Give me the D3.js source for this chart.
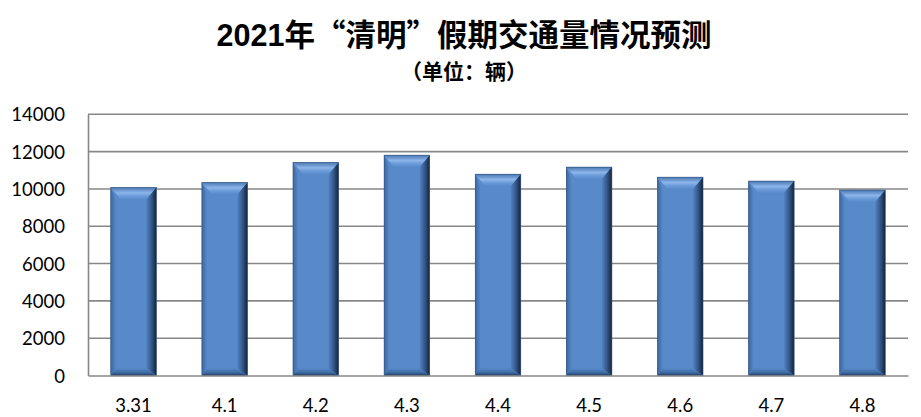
<!DOCTYPE html>
<html><head><meta charset="utf-8">
<script src="https://cdn.jsdelivr.net/npm/d3@7/dist/d3.min.js"></script>
<style>body{margin:0;background:#fff}svg{display:block}</style>
</head><body>
<svg id="c" width="921" height="417"></svg>
<script>
const categories = ["3.31","4.1","4.2","4.3","4.4","4.5","4.6","4.7","4.8"];
const values = [10080, 10350, 11420, 11810, 10790, 11170, 10630, 10420, 9940];
const yTicks = [0,2000,4000,6000,8000,10000,12000,14000];
const titleYear = "2021";
const titleRest = "年“清明”假期交通量情况预测";
const subtitleText = "（单位：辆）";

const svg = d3.select("#c");
const m = {l:88, r:908, t:114.3, b:375.5};
const x = d3.scaleBand().domain(categories).range([m.l, m.r]).padding(0);
const y = d3.scaleLinear().domain([0,14000]).range([m.b, m.t]);

const defs = svg.append("defs");
function lg(id, x1,y1,x2,y2, stops){
  const g = defs.append("linearGradient").attr("id",id).attr("x1",x1).attr("y1",y1).attr("x2",x2).attr("y2",y2);
  stops.forEach(s=>g.append("stop").attr("offset",s[0]).attr("stop-color",s[1]));
}
lg("gTop",0,0,0,1,[[0,"#4a78b2"],[0.45,"#8cb5ea"],[0.7,"#6c9cda"],[1,"#5889c9"]]);
lg("gRight",0,0,1,0,[[0,"#5083c2"],[0.5,"#35588a"],[1,"#15243a"]]);
lg("gLeft",0,0,1,0,[[0,"#3c679f"],[1,"#5487c6"]]);
lg("gBot",0,0,0,1,[[0,"#5487c6"],[0.6,"#3d6aa3"],[1,"#223c5e"]]);

// gridlines
svg.append("g").selectAll("line").data(yTicks.filter(d=>d>0)).join("line")
  .attr("x1",m.l).attr("x2",m.r).attr("y1",d=>y(d)).attr("y2",d=>y(d))
  .attr("stroke","#878787").attr("stroke-width",1.6);

// y axis
const yAxis = d3.axisLeft(y).tickValues(yTicks).tickSize(0).tickPadding(0).tickFormat(d3.format("d"));
const ya = svg.append("g").attr("transform",`translate(${m.l},0)`).call(yAxis);
ya.select(".domain").attr("stroke","#878787").attr("stroke-width",1.6);
ya.selectAll("text").attr("x",-23).attr("dy","0.36em")
  .style("font-family","Lato, 'Open Sans', sans-serif").style("font-size","18.5px").attr("fill","#000");

// bars
const bw = x.bandwidth()*0.5;
const bev = 10, bevB = 7;
const bars = svg.append("g").selectAll("g").data(values).join("g")
  .attr("transform",(d,i)=>`translate(${x(categories[i])+x.bandwidth()/2-bw/2},${y(d)})`);
bars.each(function(d){
  const g = d3.select(this);
  const w = bw, h = y(0)-y(d);
  g.append("rect").attr("width",w).attr("height",h).attr("fill","#5889c9");
  g.append("polygon").attr("points",`0,0 ${w},0 ${w-bev},${bev+2} ${bev},${bev+2}`).attr("fill","url(#gTop)");
  g.append("polygon").attr("points",`${w},0 ${w},${h} ${w-bev},${h-bevB} ${w-bev},${bev+2}`).attr("fill","url(#gRight)");
  g.append("polygon").attr("points",`0,0 ${bev*0.5},${bev+2} ${bev*0.5},${h-bevB} 0,${h}`).attr("fill","url(#gLeft)");
  g.append("polygon").attr("points",`0,${h} ${bev*0.5},${h-bevB} ${w-bev},${h-bevB} ${w},${h}`).attr("fill","url(#gBot)");
  g.append("rect").attr("width",w).attr("height",h).attr("fill","none").attr("stroke","#2e4f7a").attr("stroke-width",0.6);
});

// x axis
const xAxis = d3.axisBottom(x).tickSize(0).tickPadding(0);
const xa = svg.append("g").attr("transform",`translate(0,${m.b})`).call(xAxis);
xa.select(".domain").attr("stroke","#878787").attr("stroke-width",1.6);
xa.selectAll("text").attr("y",36).attr("dy",0)
  .style("font-family","Lato, 'Open Sans', sans-serif").style("font-size","18.5px").attr("fill","#000");

// titles
const t = svg.append("text").attr("x",464).attr("y",45.5).attr("text-anchor","middle")
  .style("font-weight","bold").style("font-size","30.5px").attr("fill","#000");
t.append("tspan").style("font-family","'Liberation Sans',sans-serif").text(titleYear);
t.append("tspan").style("font-family","'Noto Sans CJK SC',sans-serif").text(titleRest);
svg.append("text").attr("x",464).attr("y",79).attr("text-anchor","middle")
  .style("font-family","'Noto Sans CJK SC',sans-serif").style("font-weight","bold")
  .style("font-size","21px").attr("fill","#000").text(subtitleText);
</script>
</body></html>
